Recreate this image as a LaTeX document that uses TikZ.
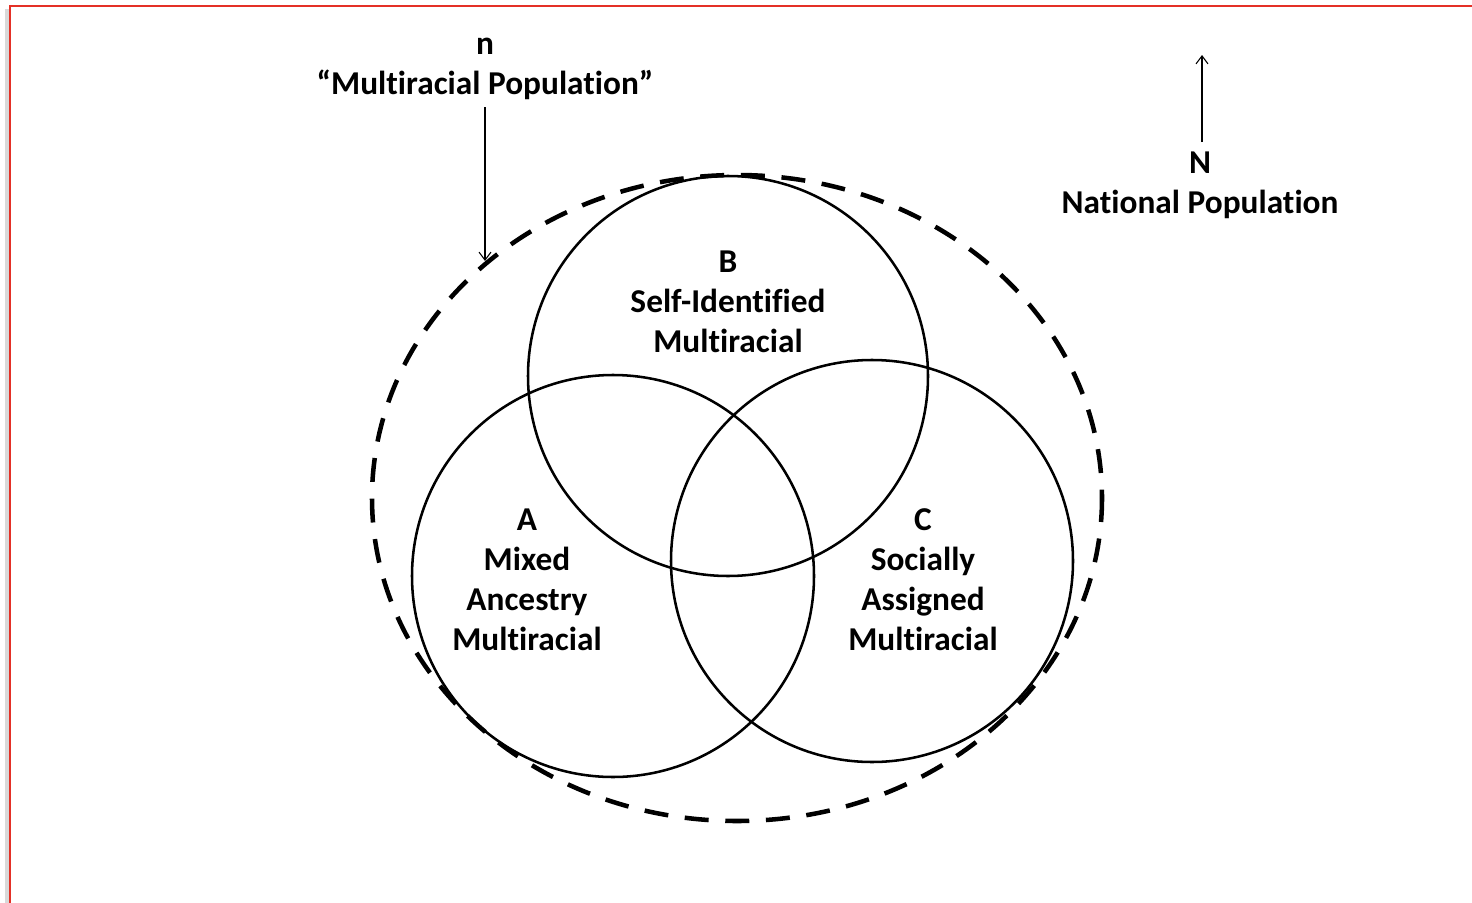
\documentclass[tikz,border=0pt]{standalone}
\usepackage{fontspec}
\setmainfont[Ligatures={NoCommon}]{Carlito}
\usetikzlibrary{arrows.meta}
\definecolor{framered}{RGB}{228,48,38}
\begin{document}
\begin{tikzpicture}[x=0.75pt,y=-0.75pt,
  set/.style={draw=black,line width=1.9pt},
  outer/.style={draw=black,line width=3.4pt,dash pattern=on 18pt off 12.5pt},
  lbl/.style={font=\bfseries\fontsize{25}{30}\selectfont,inner sep=0pt,align=center},
  pointer/.style={draw=black,line width=0.8pt,-{Straight Barb[length=6pt,width=9pt]}}]
  \useasboundingbox (0,0) rectangle (1472,903);
  % frame
  \draw[black!15,line width=2.5pt] (7,903) -- (7,9);
  \draw[framered,line width=1.7pt] (10,903) -- (10,6) -- (1472,6);
  % population boundary and the three sets
  \draw[outer] (737,498) ellipse [x radius=365, y radius=323];
  \draw[set] (728,376) circle [radius=200];
  \draw[set] (613,576) circle [radius=201];
  \draw[set] (872,561) circle [radius=201];
  % labels of the sets
  \node[lbl] (B) at (728,302) {B\\Self-Identified\\Multiracial};
  \node[lbl] (A) at (527,580) {A\\Mixed\\Ancestry\\Multiracial};
  \node[lbl] (C) at (923,580) {C\\Socially\\Assigned\\Multiracial};
  % sample and national population
  \node[lbl] (n) at (485,69) {n\\“Multiracial Population”};
  \coordinate (ntip) at (485,261);
  \draw[pointer] (485,107) -- (ntip);
  \node[lbl] (N) at (1200,185.5) {N\\National Population};
  \coordinate (Ntip) at (1202,55);
  \draw[pointer] (1202,142) -- (Ntip);
\end{tikzpicture}
\end{document}
